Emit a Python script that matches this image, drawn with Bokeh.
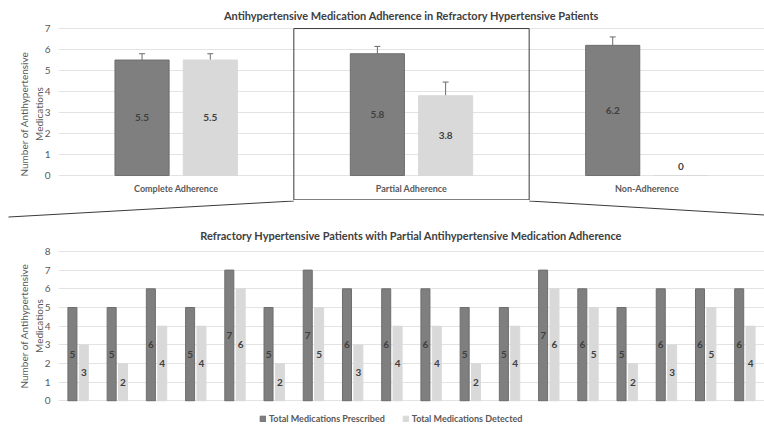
from bokeh.plotting import figure
from bokeh.models import (ColumnDataSource, Range1d, FixedTicker, Whisker, TeeHead,
                          Legend, LegendItem)
from bokeh.layouts import column
from bokeh.core.properties import value
from bokeh.embed import file_html
from bokeh.resources import INLINE

# ---------------- data: top chart ----------------
adherence_groups = ["Complete Adherence", "Partial Adherence", "Non-Adherence"]
prescribed_mean = [5.5, 5.8, 6.2]
prescribed_err = [0.3, 0.35, 0.4]
detected_mean = [5.5, 3.8, 0.0]
detected_err = [0.3, 0.65, 0.0]
top_ticks = [0, 1, 2, 3, 4, 5, 6, 7]
zoom_group = "Partial Adherence"

# ---------------- data: bottom chart ----------------
patients = list(range(1, 19))
total_prescribed = [5, 5, 6, 5, 7, 5, 7, 6, 6, 6, 5, 5, 7, 6, 5, 6, 6, 6]
total_detected = [3, 2, 4, 4, 6, 2, 5, 3, 4, 4, 2, 4, 6, 5, 2, 3, 5, 4]
bottom_ticks = [0, 1, 2, 3, 4, 5, 6, 7, 8]
series_names = ["Total Medications Prescribed", "Total Medications Detected"]

top_title = "Antihypertensive Medication Adherence in Refractory Hypertensive Patients"
bottom_title = "Refractory Hypertensive Patients with Partial Antihypertensive Medication Adherence"
y_label = "Number of Antihypertensive\nMedications"

# ---------------- styles ----------------
DARK = "#7f7f7f"
DARK_EDGE = "#6e6e6e"
LIGHT = "#d9d9d9"
GRID = "#e3e3e3"
TXT = "#404040"
AX = "#595959"
LINE = "#3a3a3a"
FONT = "Lato"
LEFT = 58
FW = 706
W = LEFT + FW
OFF = 0.145
BW = 0.23


def style_common(p, ticks):
    p.outline_line_color = None
    p.xgrid.visible = False
    p.ygrid.ticker = FixedTicker(ticks=ticks)
    p.ygrid.grid_line_color = GRID
    p.yaxis.ticker = FixedTicker(ticks=ticks)
    p.yaxis.axis_line_color = None
    p.yaxis.major_tick_line_color = None
    p.yaxis.minor_tick_line_color = None
    p.yaxis.major_label_text_font = FONT
    p.yaxis.major_label_text_font_size = "10px"
    p.yaxis.major_label_text_color = AX
    p.yaxis.major_label_standoff = 2
    p.yaxis.axis_label = y_label
    p.yaxis.axis_label_text_font = FONT
    p.yaxis.axis_label_text_font_size = "10px"
    p.yaxis.axis_label_text_font_style = "normal"
    p.yaxis.axis_label_text_color = AX
    p.yaxis.axis_label_standoff = -3
    p.title.align = "center"
    p.title.text_font = FONT
    p.title.text_font_size = "11px"
    p.title.text_font_style = "bold"
    p.title.text_color = TXT


def lab_y(v):
    return v / 2 if v > 0 else 0.45


# ---------------- top chart ----------------
n1 = len(adherence_groups)
xc = [i + 0.5 for i in range(n1)]
src1 = ColumnDataSource(dict(
    x=xc,
    cat=adherence_groups,
    cat_y=[-0.62] * n1,
    xd=[x - OFF for x in xc],
    xl=[x + OFF for x in xc],
    pres=prescribed_mean,
    det=detected_mean,
    pres_lab=[f"{v:g}" for v in prescribed_mean],
    det_lab=[f"{v:g}" for v in detected_mean],
    pres_ly=[lab_y(v) for v in prescribed_mean],
    det_ly=[lab_y(v) for v in detected_mean],
))

p1 = figure(frame_width=FW, frame_height=173, x_range=Range1d(0, n1), y_range=Range1d(-1.19, 7.05),
            x_axis_location=None, toolbar_location=None, output_backend="svg",
            min_border_left=LEFT, min_border_right=0, min_border_bottom=0, min_border_top=0,
            title=top_title)
style_common(p1, top_ticks)
p1.title.standoff = 12

p1.vbar(x="xd", top="pres", bottom=0, width=BW, source=src1, fill_color=DARK, line_color=DARK_EDGE)
p1.vbar(x="xl", top="det", bottom=0, width=BW, source=src1, fill_color=LIGHT, line_color=LIGHT)

err_rows_x, err_up, err_lo = [], [], []
for i in range(n1):
    if prescribed_err[i] > 0:
        err_rows_x.append(xc[i] - OFF)
        err_up.append(prescribed_mean[i] + prescribed_err[i])
        err_lo.append(prescribed_mean[i] - prescribed_err[i])
    if detected_err[i] > 0:
        err_rows_x.append(xc[i] + OFF)
        err_up.append(detected_mean[i] + detected_err[i])
        err_lo.append(detected_mean[i] - detected_err[i])
esrc = ColumnDataSource(dict(base=err_rows_x, upper=err_up, lower=err_lo))
wh = Whisker(source=esrc, base="base", upper="upper", lower="lower", dimension="height",
             line_color="#6a6a6a", line_width=1,
             upper_head=TeeHead(size=6, line_color="#6a6a6a", line_width=1),
             lower_head=TeeHead(size=6, line_color="#6a6a6a", line_width=1))
p1.add_layout(wh)

for xcol, tcol, ycol in (("xd", "pres_lab", "pres_ly"), ("xl", "det_lab", "det_ly")):
    p1.text(x=xcol, y=ycol, text=tcol, source=src1, text_align="center", text_baseline="middle",
            text_font=value(FONT), text_font_style="bold", text_font_size="10px", text_color=TXT)

p1.text(x="x", y="cat_y", text="cat", source=src1, text_align="center", text_baseline="middle",
        text_font=value(FONT), text_font_style="bold", text_font_size="9px", text_color=AX)

zi = adherence_groups.index(zoom_group)
p1.quad(left=[zi], right=[zi + 1], top=[top_ticks[-1]], bottom=[-1.16],
        fill_color=None, line_color=LINE, line_width=1)

# ---------------- connector ----------------
CONN_H = 18
pc = figure(frame_width=W, frame_height=CONN_H, x_range=Range1d(0, W), y_range=Range1d(0, CONN_H),
            x_axis_location=None, y_axis_location=None, toolbar_location=None,
            output_backend="svg", min_border=0)
pc.frame_align = False
pc.outline_line_color = None
pc.grid.visible = False
rx0 = LEFT + FW * zi / n1
rx1 = LEFT + FW * (zi + 1) / n1
pc.line([rx0, 8], [CONN_H - 0.5, 1.5], line_color=LINE, line_width=1)
pc.line([rx1, W], [CONN_H - 0.5, 3.5], line_color=LINE, line_width=1)

# ---------------- bottom chart ----------------
n2 = len(patients)
xb = [i + 0.5 for i in range(n2)]
src2 = ColumnDataSource(dict(
    xd=[x - OFF for x in xb],
    xl=[x + OFF for x in xb],
    pres=total_prescribed,
    det=total_detected,
    pres_lab=[str(v) for v in total_prescribed],
    det_lab=[str(v) for v in total_detected],
    pres_ly=[v / 2 for v in total_prescribed],
    det_ly=[v / 2 for v in total_detected],
))

p2 = figure(frame_width=FW, frame_height=151, x_range=Range1d(0, n2), y_range=Range1d(-0.03, 8.05),
            x_axis_location=None, toolbar_location=None, output_backend="svg",
            min_border_left=LEFT, min_border_right=0, min_border_bottom=6, min_border_top=0,
            title=bottom_title)
style_common(p2, bottom_ticks)
p2.title.standoff = 17

p2.vbar(x="xd", top="pres", bottom=0, width=BW, source=src2, fill_color=DARK, line_color=DARK_EDGE)
p2.vbar(x="xl", top="det", bottom=0, width=BW, source=src2, fill_color=LIGHT, line_color=LIGHT)
for xcol, tcol, ycol in (("xd", "pres_lab", "pres_ly"), ("xl", "det_lab", "det_ly")):
    p2.text(x=xcol, y=ycol, text=tcol, source=src2, text_align="center", text_baseline="middle",
            text_font=value(FONT), text_font_style="bold", text_font_size="10px", text_color=TXT)

# ---------------- legend strip ----------------
LEG_H = 17
pl = figure(frame_width=W, frame_height=LEG_H, x_range=Range1d(0, 1), y_range=Range1d(0, 1),
            x_axis_location=None, y_axis_location=None, toolbar_location=None,
            output_backend="svg", min_border=0)
pl.frame_align = False
pl.outline_line_color = None
pl.grid.visible = False
swatch = ColumnDataSource(dict(x=[-50], top=[-50], bottom=[-60]))
r_d = pl.vbar(x="x", top="top", bottom="bottom", width=0.1, source=swatch,
              fill_color=DARK, line_color=DARK_EDGE)
r_l = pl.vbar(x="x", top="top", bottom="bottom", width=0.1, source=swatch,
              fill_color=LIGHT, line_color=LIGHT)
legend = Legend(items=[LegendItem(label=series_names[0], renderers=[r_d]),
                       LegendItem(label=series_names[1], renderers=[r_l])],
                orientation="horizontal", location=(259, 0))
legend.glyph_width = 7
legend.glyph_height = 7
legend.label_text_font = FONT
legend.label_text_font_size = "9px"
legend.label_text_font_style = "bold"
legend.label_text_color = AX
legend.label_standoff = 3
legend.label_height = 10
legend.spacing = 17
legend.padding = 3
legend.margin = 0
legend.border_line_color = None
legend.background_fill_alpha = 0
pl.add_layout(legend)

layout = column(p1, pc, p2, pl, spacing=0)
open("out.html", "w").write(file_html(layout, INLINE))
